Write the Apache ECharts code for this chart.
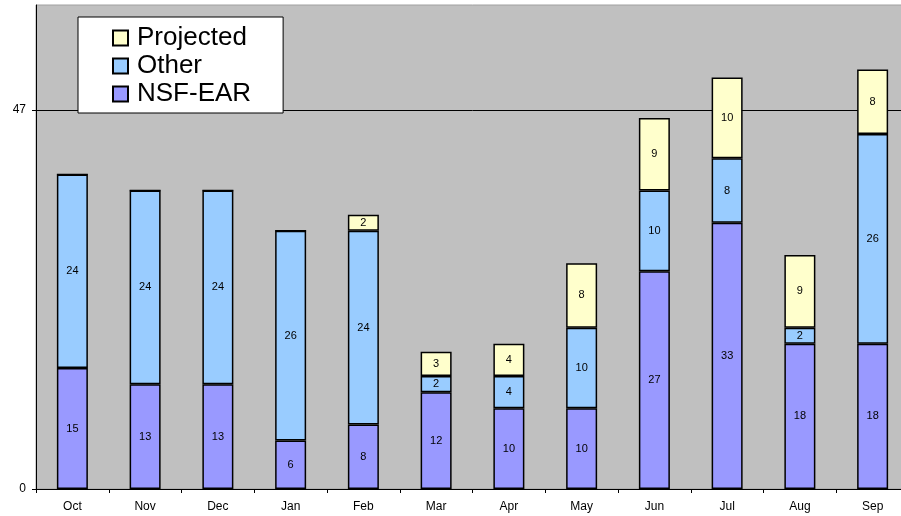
<!DOCTYPE html>
<html>
<head>
<meta charset="utf-8">
<script src="https://cdn.jsdelivr.net/npm/echarts@6/dist/echarts.min.js"></script>
<style>
  html, body { margin: 0; padding: 0; background: #fff; overflow: hidden; }
  #chart { width: 910px; height: 516px; }
</style>
</head>
<body>
<div id="chart"></div>
<script>
const months = ['Oct', 'Nov', 'Dec', 'Jan', 'Feb', 'Mar', 'Apr', 'May', 'Jun', 'Jul', 'Aug', 'Sep']
const nsfEar = [15, 13, 13, 6, 8, 12, 10, 10, 27, 33, 18, 18]
const other = [24, 24, 24, 26, 24, 2, 4, 10, 10, 8, 2, 26]
const projected = [0, 0, 0, 0, 2, 3, 4, 8, 9, 10, 9, 8]
const yTicks = [0, 47]

const chart = echarts.init(document.getElementById('chart'))

const makeSeries = (name, data, color) => ({
  name,
  type: 'bar',
  stack: 'total',
  data,
  barWidth: 31,
  itemStyle: {
    color,
    borderColor: '#000',
    borderWidth: 1.5
  },
  label: {
    show: true,
    position: 'inside',
    color: '#000',
    fontSize: 11,
    fontFamily: 'Liberation Sans',
    formatter: p => (p.value ? p.value : '')
  }
})

chart.setOption({
  animation: false,
  grid: {
    left: 36,
    right: 1,
    top: 5,
    bottom: 27,
    show: true,
    backgroundColor: '#C0C0C0',
    borderColor: '#A0A0A0',
    borderWidth: 1
  },
  legend: {
    data: ['Projected', 'Other', 'NSF-EAR'],
    orient: 'vertical',
    left: 78,
    top: 17,
    padding: [8, 32, 6, 34],
    itemGap: 2,
    itemWidth: 15,
    itemHeight: 15,
    icon: 'rect',
    backgroundColor: '#fff',
    borderColor: '#000',
    borderWidth: 1,
    textStyle: {
      fontSize: 26,
      fontFamily: 'Liberation Sans',
      color: '#000',
      padding: [0, 0, 0, 4]
    }
  },
  xAxis: {
    type: 'category',
    data: months,
    axisLine: { lineStyle: { color: '#000' } },
    axisTick: { show: true, length: 4, lineStyle: { color: '#000' } },
    axisLabel: {
      color: '#000',
      fontSize: 12,
      fontFamily: 'Liberation Sans',
      margin: 12
    }
  },
  yAxis: {
    type: 'value',
    min: 0,
    max: 60,
    axisLine: { show: true, lineStyle: { color: '#000' } },
    axisTick: { show: true, length: 4, customValues: yTicks, lineStyle: { color: '#000' } },
    axisLabel: {
      color: '#000',
      fontSize: 12,
      fontFamily: 'Liberation Sans',
      customValues: yTicks,
      margin: 10
    },
    splitLine: { show: true, lineStyle: { color: '#000', width: 1 } }
  },
  series: [
    makeSeries('NSF-EAR', nsfEar, '#9999FF'),
    makeSeries('Other', other, '#99CCFF'),
    makeSeries('Projected', projected, '#FFFFCC')
  ]
})
</script>
</body>
</html>
